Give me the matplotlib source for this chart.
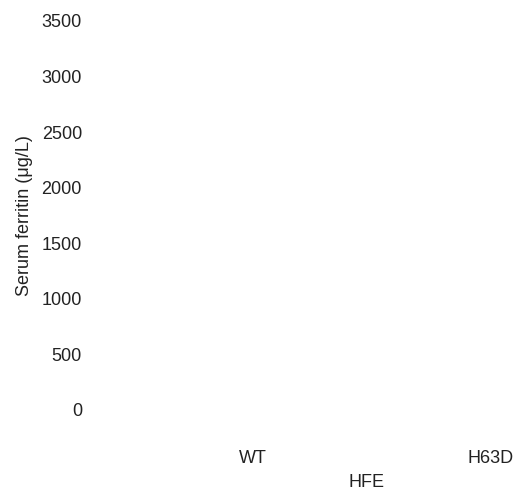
import matplotlib
matplotlib.use("Agg")
import matplotlib.pyplot as plt

# chart content (the reference panel holds no plotted marks)
groups = ["WT", "H63D"]
group_pos = [0, 1]
yticks = [0, 500, 1000, 1500, 2000, 2500, 3000, 3500]
ylabel = "Serum ferritin (\u03bcg/L)"
xlabel = "HFE"

plt.rcParams["font.family"] = ["Liberation Sans", "DejaVu Sans"]
plt.rcParams["font.size"] = 13

W, H = 524, 495
fig = plt.figure(figsize=(W / 100, H / 100), dpi=100)

# axes box in pixels: left 95, right 524, top 21, bottom 410
left, right, top, bottom = 95, 524, 21, 410
ax = fig.add_axes([left / W, 1 - bottom / H, (right - left) / W, (bottom - top) / H])

ax.set_ylim(0, 3500)
ax.set_yticks(yticks)
ax.set_yticklabels([str(v) for v in yticks], color="#222222")

# x positions: WT at px 253, H63D at px 491
span = 491 - 253
ax.set_xlim(-(253 - left) / span, 1 + (right - 491) / span)
ax.set_xticks(group_pos)
ax.set_xticklabels(groups, color="#222222")

for s in ax.spines.values():
    s.set_visible(False)
ax.tick_params(axis="y", length=0, pad=9.4)
ax.tick_params(axis="x", length=0, pad=28.5)

ax.set_xlabel(xlabel, color="#222222")
ax.xaxis.set_label_coords((366 - left) / (right - left), -(474 - bottom) / (bottom - top), transform=ax.transAxes)
ax.xaxis.label.set_va("top")

ax.set_ylabel(ylabel, color="#222222")
ax.yaxis.set_label_coords(-(left - 25) / (right - left), 1 - (216 - top) / (bottom - top), transform=ax.transAxes)
ax.yaxis.label.set_va("center")

fig.savefig("out.png", dpi=100)
